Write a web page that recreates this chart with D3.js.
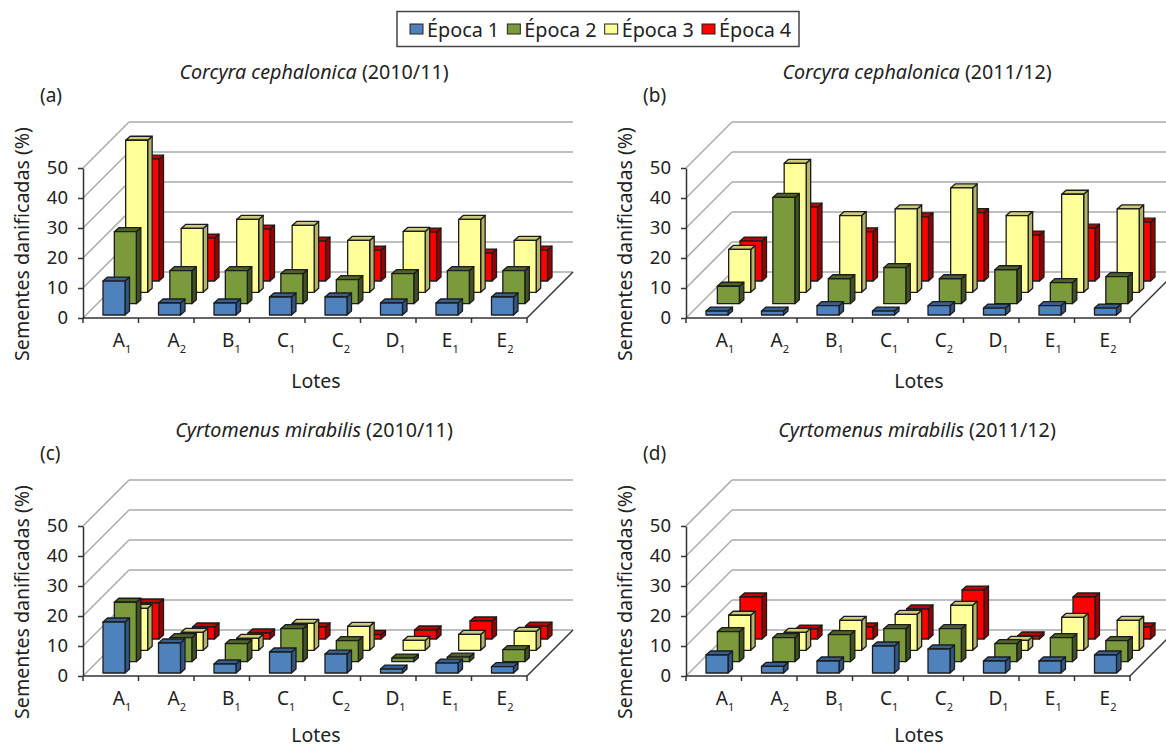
<!DOCTYPE html>
<html>
<head>
<meta charset="utf-8">
<script src="https://cdn.jsdelivr.net/npm/d3@7"></script>
<style>
  html, body { margin: 0; background: #fff; }
  text { font-family: "Noto Sans", sans-serif; fill: #222; }
</style>
</head>
<body>
<div class="root"></div>
<script>
const width = 1166;
const height = 748;

const lotes = ["A1", "A2", "B1", "C1", "C2", "D1", "E1", "E2"];
const epocas = ["Época 1", "Época 2", "Época 3", "Época 4"];
const yTicks = [0, 10, 20, 30, 40, 50];

// values, one list per época
const a1 = [11.3, 4, 4, 6, 6, 4, 4, 6];
const a2 = [24, 11, 11, 10, 8, 10, 11, 11];
const a3 = [50.7, 21.3, 24.3, 22.3, 17.3, 20.3, 24.3, 17.3];
const a4 = [40.6, 14.3, 17.3, 13.3, 10.3, 16.3, 9.3, 10.3];

const b1 = [1.3, 1.3, 3.1, 1.3, 3.1, 2.3, 3.1, 2.3];
const b2 = [5.8, 35.4, 8.3, 12, 8.3, 11.3, 7, 9];
const b3 = [14.3, 43, 25.6, 27.8, 34.8, 25.6, 32.7, 27.8];
const b4 = [13.3, 24.6, 16.4, 21.4, 22.8, 15.3, 17.6, 19.6];

const c1 = [17, 10, 3, 7, 6.3, 1.3, 3.3, 2.1];
const c2 = [19.8, 8, 6, 11, 7, 1.2, 1.5, 4];
const c3 = [14, 6, 4, 9, 8, 3.3, 5.3, 6.3];
const c4 = [12, 4, 2, 4, 1.5, 3, 6, 4.3];

const d1 = [6, 2.2, 4, 9, 8, 4, 4, 6];
const d2 = [10, 8, 9, 11, 11, 6, 8, 7];
const d3Vals = [11.7, 6, 10, 12, 15, 3.3, 11, 10];
const d4 = [14, 3.3, 4, 10, 16.3, 1, 14, 4];

const panels = [
  { letter: "(a)", name: "Corcyra cephalonica", year: " (2010/11)", ox: 83, oy: 318, lotesY: 70, series: [a1, a2, a3, a4] },
  { letter: "(b)", name: "Corcyra cephalonica", year: " (2011/12)", ox: 686, oy: 318, lotesY: 70, series: [b1, b2, b3, b4] },
  { letter: "(c)", name: "Cyrtomenus mirabilis", year: " (2010/11)", ox: 83, oy: 676, lotesY: 66, series: [c1, c2, c3, c4] },
  { letter: "(d)", name: "Cyrtomenus mirabilis", year: " (2011/12)", ox: 686, oy: 676, lotesY: 66, series: [d1, d2, d3Vals, d4] },
];

const front = ["#4f81bd", "#7a9a3c", "#ffff99", "#ff0000"];
const topFace = ["#376092", "#4f6228", "#cccc77", "#c00000"];
const sideFace = ["#2f5685", "#3f5120", "#b3b36b", "#990000"];

const plotW = 444;
const wallD = 46; // how far the back wall sits behind the front axis
const barW = 22;
const capX = 4.5;
const capY = 4;

const x = d3.scaleBand().domain(lotes).range([0, plotW]);
const y = d3.scaleLinear().domain([0, 50]).range([0, -150]);
const row = d3.scalePoint().domain(d3.range(4)).range([0, 34]);
// the labels in the picture are spaced a little tighter than the bars
const labelX = d3.scalePoint().domain(lotes).range([39, 422]);

const svg = d3
  .select(".root")
  .append("svg")
  .attr("width", width)
  .attr("height", height)
  .style("display", "block");

panels.forEach(drawPanel);
drawLegend();

function drawPanel(p) {
  const g = svg.append("g").attr("transform", `translate(${p.ox},${p.oy})`);

  // walls
  g.selectAll(".side")
    .data(yTicks)
    .join("line")
    .attr("x1", 0)
    .attr("y1", (d) => y(d))
    .attr("x2", wallD)
    .attr("y2", (d) => y(d) - wallD)
    .attr("stroke", "#aaa")
    .attr("stroke-width", 1.5);
  g.selectAll(".back")
    .data(yTicks)
    .join("line")
    .attr("x1", wallD)
    .attr("y1", (d) => y(d) - wallD)
    .attr("x2", plotW + wallD)
    .attr("y2", (d) => y(d) - wallD)
    .attr("stroke", "#aaa")
    .attr("stroke-width", 1.5);

  // bars, back row first
  d3.range(3, -1, -1).forEach((s) => {
    p.series[s].forEach((v, i) => drawBar(g, s, lotes[i], v));
  });

  // floor edges and axes
  g.append("line")
    .attr("x1", plotW)
    .attr("y1", 0)
    .attr("x2", plotW + wallD)
    .attr("y2", -wallD)
    .attr("stroke", "#333")
    .attr("stroke-width", 1.5);

  const yAxis = g.append("g").call(
    d3.axisLeft(d3.scaleLinear().domain([0, 50]).range([y(0), y(50)]))
      .tickValues(yTicks)
      .tickSize(5)
      .tickSizeOuter(0)
      .tickPadding(10)
  );
  yAxis.selectAll("path, line").attr("stroke", "#333").attr("stroke-width", 1.5);
  yAxis.selectAll("text").style("font-size", "18.5px").attr("fill", "#222");

  g.append("line")
    .attr("x1", 0)
    .attr("x2", plotW)
    .attr("y1", 0)
    .attr("y2", 0)
    .attr("stroke", "#333")
    .attr("stroke-width", 1.5);
  g.selectAll(".xtick")
    .data(lotes.concat("end"))
    .join("line")
    .attr("x1", (d) => (d === "end" ? plotW : x(d)))
    .attr("x2", (d) => (d === "end" ? plotW : x(d)))
    .attr("y1", 0)
    .attr("y2", 5)
    .attr("stroke", "#333")
    .attr("stroke-width", 1.5);

  // lote labels with subscripts
  const labels = g
    .selectAll(".lote")
    .data(lotes)
    .join("text")
    .attr("x", (d) => labelX(d))
    .attr("y", 29)
    .attr("text-anchor", "middle")
    .style("font-size", "19px");
  labels.append("tspan").text((d) => d[0]);
  labels
    .append("tspan")
    .attr("dy", 6)
    .style("font-size", "11px")
    .text((d) => d[1]);

  g.append("text")
    .attr("x", plotW / 2 + 11)
    .attr("y", p.lotesY)
    .attr("text-anchor", "middle")
    .style("font-size", "19.5px")
    .text("Lotes");

  g.append("text")
    .attr("transform", `translate(-54,-74) rotate(-90)`)
    .attr("text-anchor", "middle")
    .style("font-size", "19.6px")
    .text("Sementes danificadas (%)");

  const title = g
    .append("text")
    .attr("x", plotW / 2 + 9)
    .attr("y", -239)
    .attr("text-anchor", "middle")
    .style("font-size", "19.7px");
  title.append("tspan").style("font-style", "italic").text(p.name);
  title.append("tspan").text(p.year);

  g.append("text")
    .attr("x", -43)
    .attr("y", -216)
    .style("font-size", "19px")
    .text(p.letter);
}

function drawBar(g, s, lote, v) {
  const x0 = x(lote) + 20 + row(s);
  const x1 = x0 + barW;
  const base = -3 - row(s);
  const top = base + y(v);
  const edge = { stroke: "#1c1c1c", "stroke-width": 1.3, "stroke-linejoin": "round" };

  const face = (pts, fill) => {
    const el = g.append("polygon").attr("points", pts.join(" ")).attr("fill", fill);
    Object.entries(edge).forEach(([k, val]) => el.attr(k, val));
  };

  face([[x1, base], [x1 + capX, base - capY], [x1 + capX, top - capY], [x1, top]], sideFace[s]);
  face([[x0, top], [x1, top], [x1 + capX, top - capY], [x0 + capX, top - capY]], topFace[s]);
  face([[x0, top], [x1, top], [x1, base], [x0, base]], front[s]);
}

function drawLegend() {
  const legendX = d3.scalePoint().domain(epocas).range([410, 702]);
  svg.append("rect")
    .attr("x", 397)
    .attr("y", 11.5)
    .attr("width", 402)
    .attr("height", 35)
    .attr("fill", "#fff")
    .attr("stroke", "#444")
    .attr("stroke-width", 1.5);

  const items = svg
    .selectAll(".item")
    .data(epocas)
    .join("g")
    .attr("transform", (d) => `translate(${legendX(d)},0)`);
  items
    .append("rect")
    .attr("y", 24)
    .attr("width", 13)
    .attr("height", 10)
    .attr("fill", (d, i) => front[i])
    .attr("stroke", "#222")
    .attr("stroke-width", 1);
  items
    .append("text")
    .attr("x", 17)
    .attr("y", 37)
    .style("font-size", "19.8px")
    .text((d) => d);
}
</script>
</body>
</html>
